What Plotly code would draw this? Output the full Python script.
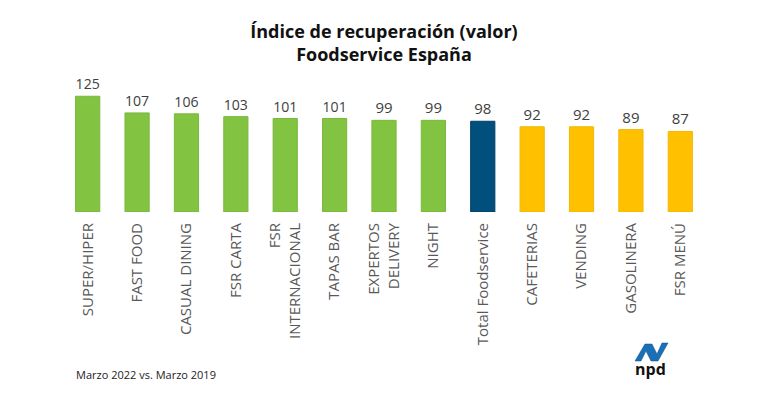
import plotly.graph_objects as go

categories = ["SUPER/HIPER", "FAST FOOD", "CASUAL DINING", "FSR CARTA",
              "FSR<br>INTERNACIONAL", "TAPAS BAR", "EXPERTOS<br>DELIVERY", "NIGHT",
              "Total Foodservice", "CAFETERIAS", "VENDING", "GASOLINERA", "FSR MENÚ"]
values = [125, 107, 106, 103, 101, 101, 99, 99, 98, 92, 92, 89, 87]
groups = ["canal"] * 8 + ["total"] + ["bajo"] * 4

color_map = {"canal": "#82C341", "total": "#004F7D", "bajo": "#FFC000"}
line_map = {"canal": "#7AB83D", "total": "#003E63", "bajo": "#F2B800"}
colors = [color_map[g] for g in groups]
lines = [line_map[g] for g in groups]

# page body has an 8px offset; figure sized/positioned to compensate
OFF = 8
W, H = 770 - OFF, 399 - OFF
L, R, T, B = 63 - OFF, 65, 87 - OFF, 187
PW, PH = W - L - R, H - T - B


def fx(px):
    return (px - OFF - L) / PW


def fy(py):
    return (H - B - (py - OFF)) / PH


fig = go.Figure(go.Bar(
    x=categories, y=values,
    marker=dict(color=colors, line=dict(color=lines, width=1)),
    width=0.49,
    text=[str(v) for v in values], textposition="outside",
    textfont=dict(size=15, color="#404040", family="Open Sans"),
    cliponaxis=False,
))

fig.update_layout(
    width=W, height=H,
    margin=dict(l=L, r=R, t=T, b=B, autoexpand=False),
    paper_bgcolor="white", plot_bgcolor="white",
    showlegend=False,
    font=dict(family="Open Sans", color="#595959"),
    title=dict(
        text="Índice de recuperación (valor)<br>Foodservice España",
        x=0.5, xanchor="center", xref="paper", y=1 - 30 / H, yanchor="top",
        font=dict(size=18, color="#111111", family="Open Sans", weight="bold"),
    ),
    xaxis=dict(tickangle=-90, tickfont=dict(size=15, color="#595959"),
               showline=False, showgrid=False, ticks="outside", ticklen=4,
               tickcolor="rgba(0,0,0,0)"),
    yaxis=dict(range=[0, 135], visible=False),
)

fig.add_annotation(text="Marzo 2022 vs. Marzo 2019", xref="paper", yref="paper",
                   x=fx(74), y=fy(374), xanchor="left", yanchor="middle",
                   showarrow=False, font=dict(size=11, color="#222222"))

# npd logo (decorative)
pts = [(635, 361), (645, 344), (652, 344), (657, 354), (662, 343), (668, 343),
       (658, 361), (651, 361), (646, 351), (641, 361)]
path = "M " + " L ".join(f"{fx(x):.4f} {fy(y):.4f}" for x, y in pts) + " Z"
fig.add_shape(type="path", xref="paper", yref="paper", path=path,
              line=dict(width=0.5, color="#0D4F8A"), fillcolor="#1B6FB5")
fig.add_annotation(text="<b>npd</b>", xref="paper", yref="paper",
                   x=fx(650), y=fy(369), xanchor="center", yanchor="middle",
                   showarrow=False, font=dict(size=16, color="#111111", family="Open Sans"))

fig.write_html("out.html")
